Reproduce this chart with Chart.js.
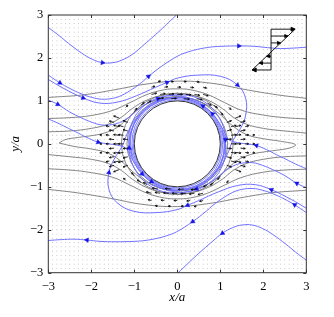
<!DOCTYPE html>
<html>
<head>
<meta charset="utf-8">
<script src="https://cdn.jsdelivr.net/npm/chart.js@4.4.1/dist/chart.umd.min.js"></script>
<style>
  html, body { margin: 0; padding: 0; background: #fff; }
</style>
</head>
<body>
<canvas id="chart" width="334" height="317"></canvas>
<script>
const AXIS_TICKS = [-3, -2, -1, 0, 1, 2, 3];
const GRID_POS = [-2.9, -2.8, -2.7, -2.6, -2.5, -2.4, -2.3, -2.2, -2.1, -2.0, -1.9, -1.8, -1.7, -1.6, -1.5,
  -1.4, -1.3, -1.2, -1.1, -1.0, -0.9, -0.8, -0.7, -0.6, -0.5, -0.4, -0.3, -0.2, -0.1, 0,
  0.1, 0.2, 0.3, 0.4, 0.5, 0.6, 0.7, 0.8, 0.9, 1.0, 1.1, 1.2, 1.3, 1.4, 1.5,
  1.6, 1.7, 1.8, 1.9, 2.0, 2.1, 2.2, 2.3, 2.4, 2.5, 2.6, 2.7, 2.8, 2.9];
const CYLINDER_R = 1;

// blue trajectories (with arrow marks)
const BLUE_A_X = [-3.0, -2.75, -2.53, -2.22, -1.98, -1.74, -1.50, -1.29, -1.05, -0.83, -0.60, -0.40, -0.20, -0.02];
const BLUE_A_Y = [2.71, 2.52, 2.34, 2.11, 1.97, 1.89, 1.89, 1.95, 2.08, 2.26, 2.46, 2.64, 2.83, 3.0];
const BLUE_A_MARKS = [5];
const BLUE_F_X = [3.0, 2.75, 2.53, 2.22, 1.98, 1.74, 1.50, 1.29, 1.05, 0.83, 0.60, 0.40, 0.20, 0.02];
const BLUE_F_Y = [-2.71, -2.52, -2.34, -2.11, -1.97, -1.89, -1.89, -1.95, -2.08, -2.26, -2.46, -2.64, -2.83, -3.0];
const BLUE_F_MARKS = [8];

const BLUE_B_X = [-3.0, -2.73, -2.50, -2.22, -1.98, -1.76, -1.50, -1.29, -1.05, -0.83, -0.67, -0.36, 0.02, 0.25, 0.47, 0.75, 1.00, 1.43, 1.80, 2.10, 2.40, 2.70, 3.0];
const BLUE_B_Y = [1.60, 1.42, 1.29, 1.16, 1.08, 1.04, 1.06, 1.13, 1.27, 1.43, 1.57, 1.81, 2.05, 2.14, 2.20, 2.25, 2.27, 2.28, 2.27, 2.24, 2.22, 2.23, 2.25];
const BLUE_B_MARKS = [1, 10, 17];
const BLUE_B2_X = [3.0, 2.73, 2.50, 2.22, 1.98, 1.76, 1.50, 1.29, 1.05, 0.83, 0.67, 0.36, -0.02, -0.25, -0.47, -0.75, -1.00, -1.43, -1.80, -2.10, -2.40, -2.70, -3.0];
const BLUE_B2_Y = [-1.60, -1.42, -1.29, -1.16, -1.08, -1.04, -1.06, -1.13, -1.27, -1.43, -1.57, -1.81, -2.05, -2.14, -2.20, -2.25, -2.27, -2.28, -2.27, -2.24, -2.22, -2.23, -2.25];
const BLUE_B2_MARKS = [1, 11, 19];

const BLUE_E2_X = [-3.0, -2.66, -2.19, -1.81, -1.40, -0.95, -0.50, -0.24, 0.0, 0.47, 1.01, 1.40, 1.59, 1.59, 1.47, 1.28, 1.16, 1.02, 0.80, 0.50, 0.15, -0.25, -0.60];
const BLUE_E2_Y = [1.50, 1.30, 1.07, 0.95, 0.97, 1.12, 1.32, 1.43, 1.53, 1.60, 1.57, 1.37, 1.06, 0.67, 0.36, 0.05, -0.25, -0.50, -0.75, -0.95, -1.06, -1.07, -0.95];
const BLUE_E2_MARKS = [2, 7, 11];
const BLUE_E_X = [3.0, 2.66, 2.19, 1.81, 1.40, 0.95, 0.50, 0.24, 0.0, -0.47, -1.01, -1.40, -1.59, -1.59, -1.47, -1.28, -1.16, -1.02, -0.80, -0.50, -0.15, 0.25, 0.60];
const BLUE_E_Y = [-1.50, -1.30, -1.07, -0.95, -0.97, -1.12, -1.32, -1.43, -1.53, -1.60, -1.57, -1.37, -1.06, -0.67, -0.36, -0.05, 0.25, 0.50, 0.75, 0.95, 1.06, 1.07, 0.95];
const BLUE_E_MARKS = [2, 7, 13];

const BLUE_C_X = [-3.0, -2.78, -2.50, -2.22, -1.98, -1.76, -1.50, -1.29, -1.10, -0.92, -0.72, -0.45, -0.20, 0.10, 0.40, 0.70, 0.93, 1.07, 1.12, 1.10, 1.00, 0.80];
const BLUE_C_Y = [1.02, 0.92, 0.74, 0.60, 0.50, 0.44, 0.45, 0.52, 0.64, 0.79, 0.93, 1.05, 1.12, 1.14, 1.09, 0.93, 0.68, 0.40, 0.10, -0.20, -0.48, -0.75];
const BLUE_C_MARKS = [1, 11, 18];
const BLUE_C2_X = [3.0, 2.78, 2.50, 2.22, 1.98, 1.76, 1.50, 1.29, 1.10, 0.92, 0.72, 0.45, 0.20, -0.10, -0.40, -0.70, -0.93, -1.07, -1.12, -1.10, -1.00, -0.80];
const BLUE_C2_Y = [-1.02, -0.92, -0.74, -0.60, -0.50, -0.44, -0.45, -0.52, -0.64, -0.79, -0.93, -1.05, -1.12, -1.14, -1.09, -0.93, -0.68, -0.40, -0.10, 0.20, 0.48, 0.75];
const BLUE_C2_MARKS = [1, 11, 18];

const BLUE_D_X = [-3.0, -2.75, -2.53, -2.30, -2.15, -1.84, -1.60, -1.40, -1.20, -1.08, -0.98, -0.82, -0.60, -0.30, 0.0, 0.35, 0.68, 0.92, 1.06, 1.10, 1.05];
const BLUE_D_Y = [0.58, 0.47, 0.36, 0.25, 0.17, 0.04, 0.0, -0.03, -0.10, -0.30, -0.48, -0.70, -0.88, -1.02, -1.08, -1.03, -0.86, -0.60, -0.30, 0.0, 0.30];
const BLUE_D_MARKS = [5, 11, 12];
const BLUE_D2_X = [3.0, 2.75, 2.53, 2.30, 2.15, 1.84, 1.60, 1.40, 1.20, 1.08, 0.98, 0.82, 0.60, 0.30, 0.0, -0.35, -0.68, -0.92, -1.06, -1.10, -1.05];
const BLUE_D2_Y = [-0.58, -0.47, -0.36, -0.25, -0.17, -0.04, 0.0, 0.03, 0.10, 0.30, 0.48, 0.70, 0.88, 1.02, 1.08, 1.03, 0.86, 0.60, 0.30, 0.0, -0.30];
const BLUE_D2_MARKS = [5, 11, 12];

// grey streamlines
const GREY_A_X = [-3.0, -2.2, -1.45, -0.8, 0.0, 0.8, 1.55, 2.33, 3.0];
const GREY_A_Y = [1.08, 1.14, 1.26, 1.38, 1.46, 1.41, 1.27, 1.14, 1.06];
const GREY_A2_X = [3.0, 2.2, 1.45, 0.8, 0.0, -0.8, -1.55, -2.33, -3.0];
const GREY_A2_Y = [-1.08, -1.14, -1.26, -1.38, -1.46, -1.41, -1.27, -1.14, -1.06];
const GREY_B_X = [-3.0, -2.5, -2.0, -1.5, -1.1, -0.7, -0.3, 0.0, 0.3, 0.7, 1.1, 1.5, 2.0, 2.5, 3.0];
const GREY_B_Y = [0.59, 0.61, 0.66, 0.78, 0.96, 1.15, 1.26, 1.28, 1.26, 1.15, 0.96, 0.78, 0.67, 0.61, 0.58];
const GREY_B2_X = [3.0, 2.5, 2.0, 1.5, 1.1, 0.7, 0.3, 0.0, -0.3, -0.7, -1.1, -1.5, -2.0, -2.5, -3.0];
const GREY_B2_Y = [-0.59, -0.61, -0.66, -0.78, -0.96, -1.15, -1.26, -1.28, -1.26, -1.15, -0.96, -0.78, -0.67, -0.61, -0.58];
const GREY_C_X = [-3.0, -2.5, -2.0, -1.6, -1.3, -1.05, -0.75, -0.4, 0.0, 0.4, 0.75, 1.05, 1.3, 1.6, 2.0, 2.5, 3.0];
const GREY_C_Y = [0.28, 0.30, 0.36, 0.46, 0.62, 0.82, 1.00, 1.12, 1.17, 1.12, 1.00, 0.82, 0.62, 0.46, 0.36, 0.30, 0.25];
const GREY_C2_X = [3.0, 2.5, 2.0, 1.6, 1.3, 1.05, 0.75, 0.4, 0.0, -0.4, -0.75, -1.05, -1.3, -1.6, -2.0, -2.5, -3.0];
const GREY_C2_Y = [-0.28, -0.30, -0.36, -0.46, -0.62, -0.82, -1.00, -1.12, -1.17, -1.12, -1.00, -0.82, -0.62, -0.46, -0.36, -0.30, -0.25];
const GREY_LOOP_X = [-2.75, -2.6, -2.3, -2.0, -1.7, -1.4, -1.2, -0.95, -0.6, -0.2, 0.2, 0.6, 0.95, 1.25, 1.6, 2.0, 2.4, 2.75,
  2.6, 2.3, 2.0, 1.7, 1.4, 1.2, 0.95, 0.6, 0.2, -0.2, -0.6, -0.95, -1.25, -1.6, -2.0, -2.4, -2.75];
const GREY_LOOP_Y = [0.02, 0.10, 0.15, 0.19, 0.25, 0.38, 0.55, 0.78, 0.98, 1.08, 1.07, 0.95, 0.72, 0.45, 0.22, 0.12, 0.06, -0.02,
  -0.10, -0.15, -0.19, -0.25, -0.38, -0.55, -0.78, -0.98, -1.08, -1.07, -0.95, -0.72, -0.45, -0.22, -0.12, -0.06, 0.02];

// closed orbits hugging the cylinder (semi-axes)
const BLUE_ORBIT_RX = [1.03, 1.07, 1.12, 1.18];
const BLUE_ORBIT_RY = [1.02, 1.04, 1.06, 1.08];
const GREY_ORBIT_RX = [1.17, 1.3];
const GREY_ORBIT_RY = [1.1, 1.18];

// quiver arrows near the cylinder
const QUIVER_X = [
  -0.6, -0.4, -0.2, 0, 0.2, 0.4, 0.6, -0.6, -0.3, 0, 0.3, 0.6,
  -0.45, -0.15, 0.15, 0.45, -0.45, -0.15, 0.15, 0.45,
  0.6, 0.4, 0.2, 0, -0.2, -0.4, -0.6, 0.6, 0.3, 0, -0.3, -0.6,
  0.45, 0.15, -0.15, -0.45, 0.45, 0.15, -0.15, -0.45,
  -1.15, -1.15, -1.15, -1.15, -1.15, -1.15, -1.35, -1.35, -1.35, -1.35, -1.35, -1.35, -1.35, -1.58, -1.58, -1.58, -1.58, -1.58,
  -1.25, -1.25, -1.25, -1.25, -1.25, -1.47, -1.47, -1.47, -1.47, -1.47, -1.47, -1.75, -1.75, -1.75,
  1.15, 1.15, 1.15, 1.15, 1.15, 1.15, 1.35, 1.35, 1.35, 1.35, 1.35, 1.35, 1.35, 1.58, 1.58, 1.58, 1.58, 1.58,
  1.25, 1.25, 1.25, 1.25, 1.25, 1.47, 1.47, 1.47, 1.47, 1.47, 1.47, 1.75, 1.75, 1.75,
  -1.0, -0.85, -1.2, -0.7, 1.0, 0.85, 1.2, 0.7, 1.0, 0.85, 1.2, 0.7, -1.0, -0.85, -1.2, -0.7];
const QUIVER_Y = [
  1.15, 1.15, 1.15, 1.15, 1.15, 1.15, 1.15, 1.32, 1.32, 1.32, 1.32, 1.32,
  1.05, 1.05, 1.05, 1.05, 1.45, 1.45, 1.45, 1.45,
  -1.15, -1.15, -1.15, -1.15, -1.15, -1.15, -1.15, -1.32, -1.32, -1.32, -1.32, -1.32,
  -1.05, -1.05, -1.05, -1.05, -1.45, -1.45, -1.45, -1.45,
  -0.5, -0.3, -0.1, 0.1, 0.3, 0.5, -0.6, -0.4, -0.2, 0, 0.2, 0.4, 0.6, -0.4, -0.2, 0, 0.2, 0.4,
  -0.4, -0.2, 0, 0.2, 0.4, -0.5, -0.3, -0.1, 0.1, 0.3, 0.5, -0.2, 0, 0.2,
  0.5, 0.3, 0.1, -0.1, -0.3, -0.5, 0.6, 0.4, 0.2, 0, -0.2, -0.4, -0.6, 0.4, 0.2, 0, -0.2, -0.4,
  0.4, 0.2, 0, -0.2, -0.4, 0.5, 0.3, 0.1, -0.1, -0.3, -0.5, 0.2, 0, -0.2,
  0.75, 0.9, 0.85, 0.95, 0.75, 0.9, 0.85, 0.95, -0.75, -0.9, -0.85, -0.95, -0.75, -0.9, -0.85, -0.95];
const QUIVER_U = [
  0.12, 0.12, 0.12, 0.12, 0.12, 0.12, 0.12, 0.08, 0.08, 0.08, 0.08, 0.08,
  0.13, 0.13, 0.13, 0.13, 0.06, 0.06, 0.06, 0.06,
  -0.12, -0.12, -0.12, -0.12, -0.12, -0.12, -0.12, -0.08, -0.08, -0.08, -0.08, -0.08,
  -0.13, -0.13, -0.13, -0.13, -0.06, -0.06, -0.06, -0.06,
  -0.11, -0.11, -0.11, -0.11, -0.11, -0.11, -0.13, -0.13, -0.13, -0.13, -0.13, -0.13, -0.13, -0.08, -0.08, -0.08, -0.08, -0.08,
  -0.12, -0.12, -0.12, -0.12, -0.12, -0.11, -0.11, -0.11, -0.11, -0.11, -0.11, -0.05, -0.05, -0.05,
  0.11, 0.11, 0.11, 0.11, 0.11, 0.11, 0.13, 0.13, 0.13, 0.13, 0.13, 0.13, 0.13, 0.08, 0.08, 0.08, 0.08, 0.08,
  0.12, 0.12, 0.12, 0.12, 0.12, 0.11, 0.11, 0.11, 0.11, 0.11, 0.11, 0.05, 0.05, 0.05,
  0.06, 0.08, 0.05, 0.09, 0.06, 0.08, 0.05, 0.09, -0.06, -0.08, -0.05, -0.09, -0.06, -0.08, -0.05, -0.09];
const QUIVER_V = [
  0.03, 0.02, 0.01, 0, -0.01, -0.02, -0.03, 0.02, 0.01, 0, -0.01, -0.02,
  0.02, 0.01, -0.01, -0.02, 0.01, 0, 0, -0.01,
  -0.03, -0.02, -0.01, 0, 0.01, 0.02, 0.03, -0.02, -0.01, 0, 0.01, 0.02,
  -0.02, -0.01, 0.01, 0.02, -0.01, 0, 0, 0.01,
  -0.04, -0.03, -0.01, 0.01, 0.03, 0.04, -0.05, -0.03, -0.015, 0, 0.015, 0.03, 0.05, -0.02, -0.01, 0, 0.01, 0.02,
  -0.03, -0.015, 0, 0.015, 0.03, -0.03, -0.02, -0.01, 0.01, 0.02, 0.03, -0.01, 0, 0.01,
  0.04, 0.03, 0.01, -0.01, -0.03, -0.04, 0.05, 0.03, 0.015, 0, -0.015, -0.03, -0.05, 0.02, 0.01, 0, -0.01, -0.02,
  0.03, 0.015, 0, -0.015, -0.03, 0.03, 0.02, 0.01, -0.01, -0.02, -0.03, 0.01, 0, -0.01,
  0.08, 0.06, 0.05, 0.05, -0.08, -0.06, -0.05, -0.05, -0.08, -0.06, -0.05, -0.05, 0.08, 0.06, 0.05, 0.05];

// shear-flow sketch, top right
const SHEAR_LEVELS = [2.67, 2.51, 2.35, 2.20, 2.04, 1.88, 1.72];
const SHEAR_BASE_X = 2.18;
const SHEAR_DIAG_X = [1.74, 2.74];
const SHEAR_DIAG_Y = [1.72, 2.67];

const BLUE = "rgb(112,112,255)";
const BLUE_MARK = "#1414e6";
const GREY = "rgb(120,120,120)";
const SERIF = "'Liberation Serif', 'Times New Roman', serif";

const BLUE_CURVES = [
  [BLUE_A_X, BLUE_A_Y, BLUE_A_MARKS], [BLUE_F_X, BLUE_F_Y, BLUE_F_MARKS],
  [BLUE_B_X, BLUE_B_Y, BLUE_B_MARKS], [BLUE_B2_X, BLUE_B2_Y, BLUE_B2_MARKS],
  [BLUE_E2_X, BLUE_E2_Y, BLUE_E2_MARKS], [BLUE_E_X, BLUE_E_Y, BLUE_E_MARKS],
  [BLUE_C_X, BLUE_C_Y, BLUE_C_MARKS], [BLUE_C2_X, BLUE_C2_Y, BLUE_C2_MARKS],
  [BLUE_D_X, BLUE_D_Y, BLUE_D_MARKS], [BLUE_D2_X, BLUE_D2_Y, BLUE_D2_MARKS],
];
const GREY_CURVES = [
  [GREY_A_X, GREY_A_Y], [GREY_A2_X, GREY_A2_Y], [GREY_B_X, GREY_B_Y], [GREY_B2_X, GREY_B2_Y],
  [GREY_C_X, GREY_C_Y], [GREY_C2_X, GREY_C2_Y], [GREY_LOOP_X, GREY_LOOP_Y],
];

function toPoints(xs, ys) {
  return xs.map((x, i) => ({ x, y: ys[i] }));
}

function lineSet(xs, ys, color, width, order) {
  return {
    data: toPoints(xs, ys),
    showLine: true,
    borderColor: color,
    borderWidth: width,
    pointRadius: 0,
    tension: 0.4,
    fill: false,
    order,
  };
}

function gridDots() {
  const pts = [];
  for (const gx of GRID_POS) {
    for (const gy of GRID_POS) {
      if (gx * gx + gy * gy < CYLINDER_R * CYLINDER_R * 1.03) continue;
      pts.push({ x: gx, y: gy });
    }
  }
  return pts;
}

function markerSet() {
  const pts = [];
  const rot = [];
  for (const [xs, ys, marks] of BLUE_CURVES) {
    for (const i of marks) {
      const a = Math.max(i - 1, 0);
      const b = Math.min(i + 1, xs.length - 1);
      pts.push({ x: xs[i], y: ys[i] });
      rot.push((Math.atan2(xs[b] - xs[a], ys[b] - ys[a]) * 180) / Math.PI);
    }
  }
  return {
    data: pts,
    showLine: false,
    pointStyle: "triangle",
    pointRotation: rot,
    pointRadius: 2.6,
    pointBackgroundColor: BLUE_MARK,
    pointBorderColor: BLUE_MARK,
    pointBorderWidth: 0.5,
    order: 0,
  };
}

function fmtTick(v) {
  return v < 0 ? "\u2212" + Math.abs(v) : String(v);
}

function arrowHead(ctx, x0, y0, x1, y1, size, filled) {
  const ang = Math.atan2(y1 - y0, x1 - x0);
  ctx.beginPath();
  ctx.moveTo(x1 - size * Math.cos(ang - 0.45), y1 - size * Math.sin(ang - 0.45));
  ctx.lineTo(x1, y1);
  ctx.lineTo(x1 - size * Math.cos(ang + 0.45), y1 - size * Math.sin(ang + 0.45));
  if (filled) {
    ctx.closePath();
    ctx.fill();
  }
  ctx.stroke();
}

const backdrop = {
  id: "backdrop",
  afterDatasetDraw(chart, args) {
    if (args.index !== 0) return;
    const { ctx, chartArea: a, scales: { x, y } } = chart;
    const cx = x.getPixelForValue(0);
    const cy = y.getPixelForValue(0);
    const ux = x.getPixelForValue(1) - cx;
    const uy = cy - y.getPixelForValue(1);
    ctx.save();
    ctx.beginPath();
    ctx.rect(a.left, a.top, a.right - a.left, a.bottom - a.top);
    ctx.clip();
    ctx.lineWidth = 0.9;
    ctx.strokeStyle = GREY;
    GREY_ORBIT_RX.forEach((rx, i) => {
      ctx.beginPath();
      ctx.ellipse(cx, cy, rx * ux, GREY_ORBIT_RY[i] * uy, 0, 0, Math.PI * 2);
      ctx.stroke();
    });
    ctx.strokeStyle = BLUE;
    BLUE_ORBIT_RX.forEach((rx, i) => {
      ctx.beginPath();
      ctx.ellipse(cx, cy, rx * ux, BLUE_ORBIT_RY[i] * uy, Math.PI / 4, 0, Math.PI * 2);
      ctx.stroke();
    });
    ctx.restore();
  },
};

const overlay = {
  id: "overlay",
  afterDatasetsDraw(chart) {
    const { ctx, chartArea: a, scales: { x, y } } = chart;
    const px = (v) => x.getPixelForValue(v);
    const py = (v) => y.getPixelForValue(v);

    ctx.save();
    // cylinder outline
    ctx.strokeStyle = "#000";
    ctx.lineWidth = 0.8;
    ctx.beginPath();
    ctx.ellipse(px(0), py(0), px(CYLINDER_R) - px(0), py(0) - py(CYLINDER_R), 0, 0, Math.PI * 2);
    ctx.stroke();

    // quiver arrows
    ctx.strokeStyle = "#000";
    ctx.fillStyle = "#000";
    ctx.lineWidth = 0.8;
    QUIVER_X.forEach((qx, i) => {
      const x0 = px(qx);
      const y0 = py(QUIVER_Y[i]);
      const x1 = px(qx + QUIVER_U[i]);
      const y1 = py(QUIVER_Y[i] + QUIVER_V[i]);
      ctx.beginPath();
      ctx.moveTo(x0, y0);
      ctx.lineTo(x1, y1);
      ctx.stroke();
      arrowHead(ctx, x0, y0, x1, y1, 2, false);
    });

    // shear sketch
    ctx.strokeStyle = "#000";
    ctx.fillStyle = "#000";
    ctx.lineWidth = 0.9;
    const top = SHEAR_LEVELS[0];
    const bot = SHEAR_LEVELS[SHEAR_LEVELS.length - 1];
    ctx.beginPath();
    ctx.moveTo(px(SHEAR_BASE_X), py(top));
    ctx.lineTo(px(SHEAR_BASE_X), py(bot));
    ctx.moveTo(px(SHEAR_DIAG_X[0]), py(SHEAR_DIAG_Y[0]));
    ctx.lineTo(px(SHEAR_DIAG_X[1]), py(SHEAR_DIAG_Y[1]));
    ctx.stroke();
    SHEAR_LEVELS.forEach((lv, i) => {
      const t = (lv - SHEAR_DIAG_Y[0]) / (SHEAR_DIAG_Y[1] - SHEAR_DIAG_Y[0]);
      const dx = SHEAR_DIAG_X[0] + t * (SHEAR_DIAG_X[1] - SHEAR_DIAG_X[0]);
      const x0 = px(SHEAR_BASE_X);
      const x1 = px(dx);
      if (Math.abs(x1 - x0) < 3) return;
      ctx.beginPath();
      ctx.moveTo(x0, py(lv));
      ctx.lineTo(x1, py(lv));
      ctx.stroke();
      const edge = i === 0 || i === SHEAR_LEVELS.length - 1;
      arrowHead(ctx, x0, py(lv), x1, py(lv), edge ? 4.5 : 3.5, true);
    });
    ctx.restore();

    // box and inward ticks
    ctx.save();
    ctx.strokeStyle = "#333";
    ctx.lineWidth = 1;
    ctx.strokeRect(a.left, a.top, a.right - a.left, a.bottom - a.top);
    ctx.beginPath();
    for (const t of AXIS_TICKS) {
      const tx = Math.round(px(t)) + 0.5;
      const ty = Math.round(py(t)) + 0.5;
      ctx.moveTo(tx, a.bottom); ctx.lineTo(tx, a.bottom - 3);
      ctx.moveTo(tx, a.top); ctx.lineTo(tx, a.top + 3);
      ctx.moveTo(a.left, ty); ctx.lineTo(a.left + 3, ty);
      ctx.moveTo(a.right, ty); ctx.lineTo(a.right - 3, ty);
    }
    ctx.stroke();
    ctx.restore();
  },
};

const datasets = [
  {
    data: gridDots(),
    showLine: false,
    pointStyle: "rect",
    pointRadius: 0.55,
    pointBackgroundColor: "#a8a8a8",
    pointBorderWidth: 0,
    order: 10,
  },
];
for (const [xs, ys] of GREY_CURVES) datasets.push(lineSet(xs, ys, GREY, 0.9, 5));
for (const [xs, ys] of BLUE_CURVES) datasets.push(lineSet(xs, ys, BLUE, 1, 3));
datasets.push(markerSet());

new Chart(document.getElementById("chart"), {
  type: "scatter",
  data: { datasets },
  options: {
    responsive: false,
    animation: false,
    events: [],
    layout: { padding: { left: 0, top: 15, right: 27.7, bottom: 0 } },
    plugins: { legend: { display: false }, tooltip: { enabled: false } },
    scales: {
      x: {
        type: "linear",
        min: -3,
        max: 3,
        grid: { display: false, drawTicks: false },
        border: { display: false },
        afterBuildTicks: (s) => { s.ticks = AXIS_TICKS.map((v) => ({ value: v })); },
        afterFit: (s) => { s.height = 44.3; },
        ticks: {
          color: "#000",
          padding: 7,
          maxRotation: 0,
          autoSkip: false,
          font: { family: SERIF, size: 12.5 },
          callback: fmtTick,
        },
        title: {
          display: true,
          text: "x/a",
          color: "#000",
          font: { family: SERIF, size: 13, style: "italic" },
          padding: { top: 0, bottom: 12 },
        },
      },
      y: {
        type: "linear",
        min: -3,
        max: 3,
        grid: { display: false, drawTicks: false },
        border: { display: false },
        afterBuildTicks: (s) => { s.ticks = AXIS_TICKS.map((v) => ({ value: v })); },
        afterFit: (s) => { s.width = 48.3; },
        ticks: {
          color: "#000",
          padding: 5,
          autoSkip: false,
          font: { family: SERIF, size: 12.5 },
          callback: fmtTick,
        },
        title: {
          display: true,
          text: "y/a",
          color: "#000",
          font: { family: SERIF, size: 13, style: "italic" },
          padding: { top: 8, bottom: 0 },
        },
      },
    },
  },
  plugins: [backdrop, overlay],
});
</script>
</body>
</html>
